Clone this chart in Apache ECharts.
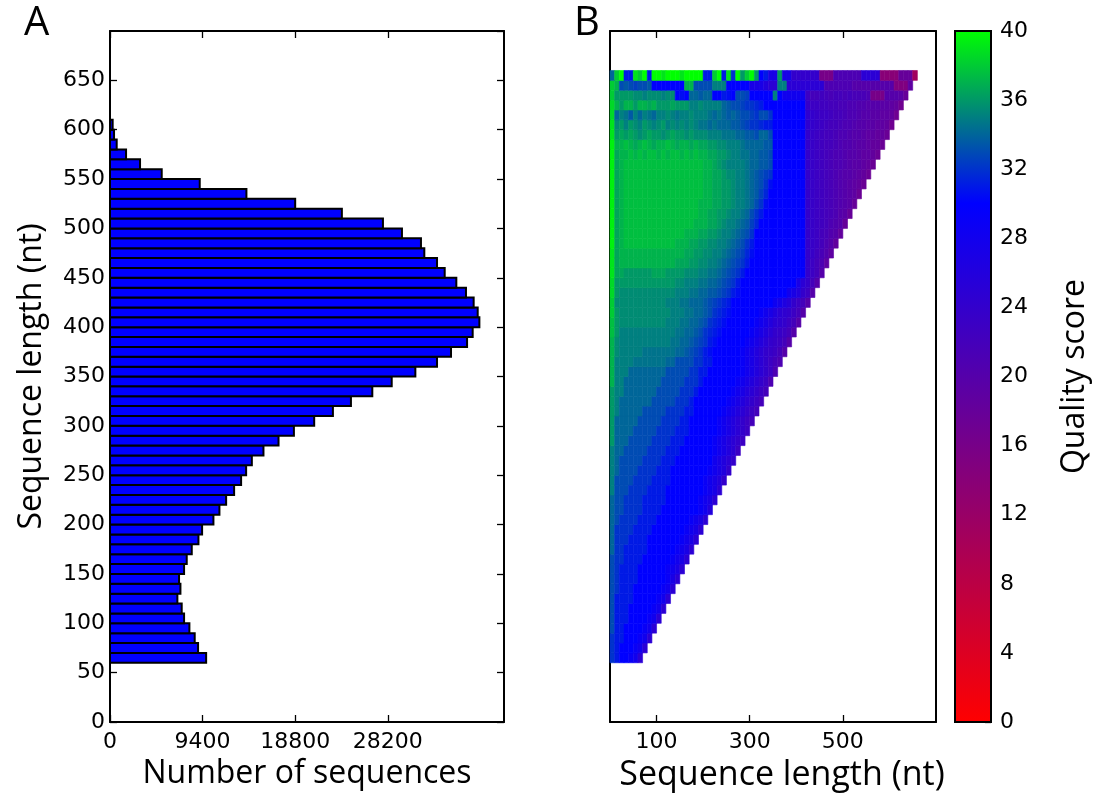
<!DOCTYPE html>
<html>
<head>
<meta charset="utf-8">
<script src="https://cdn.jsdelivr.net/npm/echarts@6/dist/echarts.min.js"></script>
<style>
  html, body { margin: 0; padding: 0; background: #fff; }
  #chart { width: 1101px; height: 797px; }
</style>
</head>
<body>
<div id="chart"></div>
<script>
// ---- Panel A: read-length histogram (bin start in nt, number of reads) ----
const binWidth = 10;
const lengthBins = [60,70,80,90,100,110,120,130,140,150,
  160,170,180,190,200,210,220,230,240,250,
  260,270,280,290,300,310,320,330,340,350,
  360,370,380,390,400,410,420,430,440,450,
  460,470,480,490,500,510,520,530,540,550,
  560,570,580,590,600];
const lengthCounts = [9760,8940,8600,8060,7520,7280,6840,7150,7010,7520,
  7790,8300,8980,9350,10500,11110,11790,12600,13310,13820,
  14400,15580,17110,18670,20730,22630,24460,26630,28600,31000,
  33200,34620,36250,36820,37500,37330,36920,36140,35160,33980,
  33200,31910,31570,29640,27710,23540,18800,13850,9110,5250,
  3050,1630,680,410,270];
const countTicks = [0, 9400, 18800, 28200];
const lengthTickStep = 50;

// ---- Panel B: mean quality per 10-nt window, one row per read-length bin ----
const positionStep = 10;
const positionTicks = [100, 300, 500];
const qualityRowStarts = [60,70,80,90,100,110,120,130,140,150,
  160,170,180,190,200,210,220,230,240,250,
  260,270,280,290,300,310,320,330,340,350,
  360,370,380,390,400,410,420,430,440,450,
  460,470,480,490,500,510,520,530,540,550,
  560,570,580,590,600,610,620,630,640,650];
const qualityRows = [
  [32,31,30,30,29,28,25],
  [32,31,30,30,30,29,28,25],
  [32,31,31,30,30,30,29,28,25],
  [33,31,31,30,30,30,30,29,28,25],
  [33,31,31,31,30,30,30,30,29,28, 25],
  [33,31,31,31,30,30,30,30,30,29, 28,25],
  [33,31,31,31,31,30,30,30,30,30, 29,28,25],
  [33,32,31,31,31,30,30,30,30,30, 30,29,28,25],
  [33,32,31,31,31,31,30,30,30,30, 30,30,29,27,25],
  [33,32,31,31,31,31,30,30,30,30, 30,30,29,28,27,25],
  [33,32,32,31,31,31,31,30,30,30, 30,30,30,29,28,27,25],
  [34,32,32,31,31,31,31,31,30,30, 30,30,30,30,29,28,27,25],
  [34,32,32,32,31,31,31,31,30,30, 30,30,30,30,30,29,28,27,25],
  [34,32,32,32,32,31,31,31,31,30, 30,30,30,30,30,30,29,28,27,25],
  [34,33,32,32,32,32,31,31,31,31, 30,30,30,30,30,30,30,29,28,27, 25],
  [34,33,33,32,32,32,32,31,31,31, 31,30,30,30,30,30,30,30,30,29, 28,26],
  [34,33,33,32,32,32,32,31,31,31, 31,31,30,30,30,30,30,30,30,29, 28,27,25],
  [35,33,33,33,32,32,32,32,31,31, 31,31,30,30,30,30,30,30,30,30, 29,28,27,25],
  [35,33,33,33,33,32,32,32,32,31, 31,31,31,30,30,30,30,30,30,30, 29,28,27,26,24],
  [35,34,33,33,33,33,32,32,32,32, 31,31,31,30,30,30,30,30,30,30, 30,29,28,27,26,24],
  [35,34,33,33,33,33,33,32,32,32, 32,31,31,31,30,30,30,30,30,30, 30,30,28,27,26,25,24],
  [35,34,34,33,33,33,33,33,32,32, 32,32,31,31,31,30,30,30,30,30, 30,30,29,28,27,26,25,23],
  [36,34,34,34,33,33,33,33,33,32, 32,32,32,31,31,31,30,30,30,30, 30,30,29,28,27,26,25,24,23],
  [36,34,34,34,34,33,33,33,33,33, 32,32,32,32,31,31,31,30,30,30, 30,30,30,29,28,27,26,25,24,23],
  [36,34,34,34,34,34,33,33,33,33, 33,32,32,32,32,31,31,30,30,30, 30,30,30,29,28,27,26,25,24,23, 22],
  [36,35,34,34,34,34,34,33,33,33, 33,33,32,32,32,32,31,31,30,30, 30,30,30,30,29,28,27,26,25,24, 23,22],
  [36,35,34,34,34,34,34,34,34,33, 33,33,33,33,32,32,32,31,30,30, 30,30,30,30,30,29,28,27,26,25, 24,23,22],
  [36,35,35,34,34,34,34,34,34,34, 33,33,33,33,33,32,32,32,31,30, 30,30,30,30,30,30,29,28,27,26, 25,24,23,22],
  [37,35,35,34,34,34,34,34,34,34, 34,33,33,33,33,33,32,32,32,31, 30,30,30,30,30,30,30,29,28,27, 26,25,24,23,21],
  [37,35,35,35,34,34,34,34,34,34, 34,34,33,33,33,33,33,32,32,31, 31,30,30,30,30,30,30,30,29,28, 27,26,25,24,23,21],
  [37,35,35,35,35,34.5,34.5,34.5,34.5,34.5, 34.5,34.5,34,34,33,33,33,33,32,32, 31,31,30,30,30,30,30,30,29,28, 27,26,25,24,23,22,21],
  [37,35.5,35,35,35,35,35,34.5,34.5,34.5, 34.5,34.5,34.5,34.5,34,34,33.5,33,32.5,32, 31,30.5,30,30,30,30,30,30,29,28, 27,26,25,24,23.5,23,22,20],
  [37,35.5,35,35,35,35,35,35,35,35, 35,35,35,34.5,34.5,34,34,33.5,33,32.5, 32,31,30.5,30,30,30,30,30,30,29, 28,27,26,25,24,23.5,23,22,20],
  [37.5,36,35,35,35,35,35,35,35,35, 35,35,35,35,34.5,34.5,34,34,33.5,33, 32,31.5,31,30.5,30,30,30,30,30,30, 29,28,27,26,25,24,23.5,23,22,20],
  [37.5,36,35.5,35.5,35.5,35.5,35.5,35.5,35.5,35.5, 35.5,35.5,35,35,35,34.5,34.5,34,34,33.5, 33,32,31.5,31,30.5,30,30,30,30,30, 30,29,28,27,26,25,24.5,24,23,22, 20],
  [38,36,35.5,35.5,35.5,35.5,35.5,35.5,35.5,35.5, 35.5,35.5,35.5,35,35,35,34.5,34.5,34,34, 33.5,33,32,31.5,31,30.5,30,30,30,30, 30,30,29,28,27,26,25,24.5,24,23, 22,20],
  [38,35.5,35.5,35.5,35.5,35.5,35.5,35.5,35.5,35.5, 35.5,35.5,35,35,35,34.5,34.5,34,34,34, 33.5,33,32.5,32,31.5,31,30,30,30,30, 30,30,30,30,30,28.5,27.5,26.5,25.5,24, 23,22,20],
  [38.5,36,35.5,35.5,35.5,35.5,35.5,35.5,35.5,35.5, 35.5,35.5,35.5,35.5,35,35,35,34.5,34.5,34, 34,33.5,33.5,33,32.5,32,31,30.5,30,30, 30,30,30,30,30,30,30,30,28,27, 26,24,23,20],
  [38.5,36,36,36,36,36,36,36,36,36, 36,36,36,36,35.5,35.5,35,35,35,34.5, 34.5,34,34,33.5,33,32.5,32,31,30,30, 30,30,30,30,30,30,30,30,30,30, 27,25,24,22,20],
  [39,36.5,36.5,36,36,36,36,36,36,36.5, 36.5,36.5,36,36,36,36,35.5,35.5,35.5,35, 35,34.5,34.5,34,33.5,33,32.5,32,31,30, 30,30,30,30,30,30,30,30,30,30, 30,29.5,24,23,22,20],
  [39,36.5,37,37,37,37,37,37,37,37, 37,37,37,37,36.5,36.5,36.5,36,36,35.5, 35.5,35,35,34.5,34,33.5,33,32.5,32,31, 30,30,30,30,30,30,30,30,30,30, 30,29.5,24,23,22,21,19],
  [39,36.5,37,37,37,37,37,37,37,37, 37,37,37,37,37,37,36.5,36.5,36,36, 35.5,35.5,35,35,34.5,34,33.5,33,32.5,31.5, 30.5,30,30,30,30,30,30,30,30,30, 30,29.5,24,23.5,22.5,21.5,20.5,19],
  [39.5,36.5,37,37.5,37.5,37.5,37.5,37.5,37.5,37.5, 37.5,37.5,37.5,37.5,37,37,37,36.5,36.5,36, 36,35.5,35.5,35,35,34.5,34,33.5,33,32, 31,30,30,30,30,30,30,30,30,30, 30,29.5,24,23.5,23,22,21,20,18.5],
  [39.5,36.5,37,37.5,37.5,37.5,37.5,37.5,37.5,37.5, 37.5,37.5,37.5,37.5,37.5,37.5,37,37,37,36.5, 36.5,36,36,35.5,35,35,34.5,34,33.5,33, 32,30,30,30,30,30,30,30,30,30, 30,29.5,24,23.5,23,22,21.5,20.5,20,18.5],
  [39.5,36.5,37,37.5,37.5,37.5,37.5,37.5,37.5,37.5, 37.5,37.5,37.5,37.5,37.5,37.5,37.5,37.5,37,37, 37,36.5,36.5,36,35.5,35,35,34.5,34,33.5, 32.5,31.5,30,30,30,30,30,30,30,30, 30,29.5,24,23.5,23,22.5,22,21,20.5,20, 18],
  [39.5,36.5,37,37.5,37.5,37.5,37.5,37.5,37.5,37.5, 37.5,37.5,37.5,37.5,37.5,37.5,37.5,37.5,37.5,37, 37,36.5,36.5,36,36,35.5,35,35,34.5,34, 33,32,31,30,30,30,30,30,30,30, 30,29.5,24,23.5,23,22.5,22,21.5,21,20, 19.5,18],
  [39.5,36.5,37,37.5,37.5,37.5,37.5,37.5,37.5,37.5, 37.5,37.5,37.5,37.5,37.5,37.5,37.5,37.5,37.5,37, 37,37,36.5,36.5,36,36,35.5,35,35,34.5, 34,33,32,30.5,30,30,30,30,30,30, 30,29.5,24,23.5,23,22.5,22,21.5,21,20.5, 20,19.5,18],
  [39.5,36.5,37,37.5,37.5,37.5,37.5,37.5,37.5,37.5, 37.5,37.5,37.5,37.5,37.5,37.5,37.5,37.5,37.5,37.5, 37,37,36.5,36.5,36,36,35.5,35,35,34.5, 34,33.5,32.5,31.5,30,30,30,30,30,30, 30,29.5,24,23.5,23,22.5,22,21.5,21,20.5, 20,19.5,19,17.5],
  [39.5,36.5,37,37.5,37.5,37.5,37.5,37.5,37.5,37.5, 37.5,37.5,37.5,37.5,37.5,37.5,37.5,37.5,37.5,37.5, 37,37,36.5,36.5,36,36,35.5,35,35,34.5, 34,33.5,33,32,30.5,30,30,30,30,30, 30,29.5,24,23.5,23,22.5,22,21.5,21,20.5, 20,19.5,19,18.5,17.5],
  [39.5,36.5,37,37.5,37.5,37.5,37.5,37.5,37.5,37.5, 37.5,37.5,37.5,37.5,37.5,37.5,37.5,37.5,37.5,37.5, 37,37,36.5,36.5,36,35.5,35.5,35,35,34.5, 34,33.5,33,32.5,32,30,30,30,30,30, 30,29.5,24,23.5,23,22.5,22,21.5,21,20.5, 20,20,19.5,19,18.5,17.5],
  [39.5,36.5,37,37.5,37.5,37.5,37.5,37.5,37.5,37.5, 37.5,37.5,37.5,37.5,37.5,37.5,37.5,37.5,37.5,37.5, 37,37,36.5,36,35.5,35,35,35,35,34.5, 34,34,33.5,33.5,33,30,30,30,30,30, 30,29.5,24,23.5,23,22.5,22,21.5,21,21, 20.5,20,19.5,19.5,19,18.5,17.5],
  [39.5,36.5,37,37,37.5,37,37.5,37,37.5,37.5, 37,37.5,37,37.5,37.5,37,37.5,37,37.5,37, 37,36.5,36.5,36,36,35.5,35,35,34.5,34.5, 34,34,33.5,33.5,33,30,30,30,30,30, 30,29.5,24,23.5,23,22.5,22,21.5,21,21, 20.5,20,20,19.5,19,19,18.5,17.5],
  [39.5,37,37,37.5,37,36.5,37,37.5,37,36.5, 37,37,37.5,37,36.5,37,37,36.5,37,36.5, 36.5,36,36,35.5,35.5,35,35,35,34.5,34, 34,34,34,33.5,33.5,30,30,30,30,30, 30,29.5,24,23.5,23,22.5,22,22,21.5,21, 20.5,20.5,20,19.5,19.5,19,18.5,18.5,17.5],
  [39,36,36.5,36,36.5,36,35.5,36,36.5,36, 36,35.5,36,36.5,36,36,35.5,36,35.5,35.5, 35.5,35,35,35,34.5,34.5,34.5,34,34,33.5, 33.5,33,34,34,33,30,30,30,30,30, 30,29.5,24,23.5,23,22.5,22,22,21.5,21, 21,20.5,20,20,19.5,19,19,18.5,18.5,17.5],
  [39,35.5,36,35,36,35.5,35,36,35.5,35, 35.5,36,35,35.5,35,35.5,35,35.5,35,34.5, 34.5,34,34.5,34,34,34,33.5,33.5,33,32.5, 32,32,31.5,31,31,30,30,30,30,30, 30,29.5,24.5,24,23.5,23,22.5,22,22,21.5, 21,21,20.5,20,20,19.5,19.5,19,19,18.5, 17],
  [38.5,34,35,34.5,33.5,35,34,35,34.5,34, 35,35,35.5,35,34.5,35,35,35.5,35,35, 35,34.5,34,34.5,34,33.5,34,33.5,33,33, 32.5,32,33,33,32,30,30,30,30,30, 30,30,24.5,24,23.5,23,23,22.5,22,22, 21.5,21,21,20.5,20,20,19.5,19.5,19,19, 18.5,17],
  [38.5,37,36,37,37,36,37,37,36.5,37, 36,36,36,36.5,36,36,36,35,35,35.5, 35,35,35,35,34,33.5,33,33,32.5,32, 32,31.5,31,30,30,30,30,30,30,30, 30,30,23.5,23,23,22.5,22.5,22,22,21.5, 21.5,21,21,20.5,20.5,20,20,20,19.5,19.5, 19,18.5,17],
  [38,36,36,36,36,35.5,35.5,35,35.5,35.5, 35.5,35,35.5,35.5,30,30.5,30,34,34,33.5, 34,34,30,30,31,30.5,30,33,33,32.5, 30,30,30,30,30,35,30,28,28,28, 28,28,23,22,22,22.5,22,21.5,22,22, 21.5,22,21.5,21.5,21.5,21,16,16,16,20, 20,20,19.5,18],
  [38,37,33,33.5,33,32.5,33,33,33.5,30, 30,30,30,30,30,30,37,37,33,33, 33,33,35,35,35,30,30,30,30,30, 27,27,27,26,25,25,35,35,25,25, 25,25,25,25,25,25,21,21,21,21, 21,21,20,20,20,20,20,20,20,20, 20,15,15,15,19],
  [34,38,40,31,31,39,38,40,31,40, 40,39,40,40,40,39,40,40,40,40, 31,31,38,40,31,39,32,40,36,38, 40,36,30,31,27,27,36,27,27,24, 24,24,24,24,24,16,16,16,21,21, 21,21,21,21,25,25,25,25,14,14, 14,14,18,18,18,11]
];

// Colour bar: quality scale 0..40, ramp red -> blue (30) -> green (40)
const qualityMin = 0, qualityMax = 40;
const qualityTickStep = 4;
const qualityColors = ['#ff0000', '#aa0055', '#5500aa', '#0000ff', '#00ff00'];

// ---- build series data ----
const histData = lengthBins.map((b, i) => [b, b + binWidth, lengthCounts[i]]);
const heatData = [];
qualityRows.forEach((row, r) => {
  const y0 = qualityRowStarts[r];
  row.forEach((q, c) => {
    heatData.push([c * positionStep, (c + 1) * positionStep, y0, y0 + binWidth, q]);
  });
});

const TICK_FONT = 'DejaVu Sans';
const TITLE_FONT = 'Open Sans';
const plain = v => String(v);
const labelStyle = { color: '#000', fontFamily: TICK_FONT, fontSize: 22, formatter: plain };
const nameStyle = { color: '#000', fontFamily: TITLE_FONT, fontSize: 32 };
const frame = { show: true, onZero: false, lineStyle: { color: '#000', width: 2 } };
function ticksIn(extra) {
  return Object.assign({ show: true, inside: true, length: 7, lineStyle: { color: '#000', width: 1.3 } }, extra || {});
}

function rectFrom(api, x0, y0, x1, y1) {
  const a = api.coord([x0, y0]);
  const b = api.coord([x1, y1]);
  return { x: a[0], y: b[1], width: b[0] - a[0], height: a[1] - b[1] };
}

const chart = echarts.init(document.getElementById('chart'), null, { renderer: 'canvas' });

chart.setOption({
  animation: false,
  backgroundColor: '#fff',
  grid: [
    { left: 110, top: 31, width: 394, height: 691 },
    { left: 610, top: 31, width: 326, height: 691 },
    { left: 955, top: 31, width: 36, height: 691 }
  ],
  xAxis: [
    { gridIndex: 0, type: 'value', position: 'bottom', min: 0, max: 40000,
      axisLine: frame, splitLine: { show: false },
      axisTick: ticksIn({ customValues: countTicks }),
      axisLabel: Object.assign({ customValues: countTicks, margin: 9 }, labelStyle),
      name: 'Number of sequences', nameLocation: 'middle', nameGap: 35, nameTextStyle: nameStyle },
    { gridIndex: 0, type: 'value', position: 'top', min: 0, max: 40000,
      axisLine: frame, splitLine: { show: false },
      axisTick: ticksIn({ customValues: countTicks }),
      axisLabel: { show: false } },
    { gridIndex: 1, type: 'value', position: 'bottom', min: 0, max: 700,
      axisLine: frame, splitLine: { show: false },
      axisTick: ticksIn({ customValues: positionTicks }),
      axisLabel: Object.assign({ customValues: positionTicks, margin: 9 }, labelStyle),
      name: 'Sequence length (nt)', nameLocation: 'middle', nameGap: 35,
      nameTextStyle: Object.assign({}, nameStyle, { fontSize: 34, padding: [0, 0, 0, 18] }) },
    { gridIndex: 1, type: 'value', position: 'top', min: 0, max: 700,
      axisLine: frame, splitLine: { show: false },
      axisTick: ticksIn({ customValues: positionTicks }),
      axisLabel: { show: false } },
    { gridIndex: 2, type: 'value', min: 0, max: 1, show: false }
  ],
  yAxis: [
    { gridIndex: 0, type: 'value', position: 'left', min: 0, max: 700, interval: lengthTickStep,
      axisLine: frame, splitLine: { show: false },
      axisTick: ticksIn(),
      axisLabel: Object.assign({ margin: 5, showMaxLabel: false }, labelStyle),
      name: 'Sequence length (nt)', nameLocation: 'middle', nameGap: 62, nameTextStyle: nameStyle },
    { gridIndex: 0, type: 'value', position: 'right', min: 0, max: 700, interval: lengthTickStep,
      axisLine: frame, splitLine: { show: false },
      axisTick: ticksIn(), axisLabel: { show: false } },
    { gridIndex: 1, type: 'value', position: 'left', min: 0, max: 700,
      axisLine: frame, splitLine: { show: false },
      axisTick: { show: false }, axisLabel: { show: false } },
    { gridIndex: 1, type: 'value', position: 'right', min: 0, max: 700,
      axisLine: frame, splitLine: { show: false },
      axisTick: { show: false }, axisLabel: { show: false } },
    { gridIndex: 2, type: 'value', position: 'right', min: qualityMin, max: qualityMax, interval: qualityTickStep,
      axisLine: frame, splitLine: { show: false },
      axisTick: ticksIn({ length: 6 }),
      axisLabel: Object.assign({ margin: 9 }, labelStyle),
      name: 'Quality score', nameLocation: 'middle', nameGap: 68, nameTextStyle: nameStyle }
  ],
  visualMap: {
    type: 'continuous', show: false, seriesIndex: 1, dimension: 4,
    min: qualityMin, max: qualityMax,
    inRange: { color: qualityColors }
  },
  series: [
    {
      type: 'custom', xAxisIndex: 0, yAxisIndex: 0, progressive: 0,
      dimensions: ['lo', 'hi', 'count'],
      encode: { x: 2, y: [0, 1] },
      data: histData,
      renderItem: function (params, api) {
        return {
          type: 'rect',
          shape: rectFrom(api, 0, api.value(0), api.value(2), api.value(1)),
          style: { fill: '#0000ff', stroke: '#000', lineWidth: 2 }
        };
      }
    },
    {
      type: 'custom', xAxisIndex: 2, yAxisIndex: 2, progressive: 0,
      dimensions: ['x0', 'x1', 'y0', 'y1', 'quality'],
      encode: { x: [0, 1], y: [2, 3] },
      data: heatData,
      renderItem: function (params, api) {
        const color = api.visual('color');
        return {
          type: 'rect',
          shape: rectFrom(api, api.value(0), api.value(2), api.value(1), api.value(3)),
          style: { fill: color, stroke: color, lineWidth: 0.6 }
        };
      }
    },
    {
      type: 'custom', xAxisIndex: 4, yAxisIndex: 4,
      dimensions: ['x0', 'x1', 'v0', 'v1'],
      encode: { x: [0, 1], y: [2, 3] },
      data: [[0, 1, qualityMin, qualityMax]],
      renderItem: function (params, api) {
        const stops = qualityColors.map((c, i) => ({ offset: i / (qualityColors.length - 1), color: c }));
        return {
          type: 'rect',
          shape: rectFrom(api, api.value(0), api.value(2), api.value(1), api.value(3)),
          style: { fill: new echarts.graphic.LinearGradient(0, 1, 0, 0, stops), stroke: '#000', lineWidth: 2 }
        };
      }
    }
  ],
  graphic: [
    { type: 'text', left: 24, top: 4, style: { text: 'A', font: '40px "Open Sans"', fill: '#000' } },
    { type: 'text', left: 574, top: 4, style: { text: 'B', font: '40px "Open Sans"', fill: '#000' } }
  ]
});
</script>
</body>
</html>
